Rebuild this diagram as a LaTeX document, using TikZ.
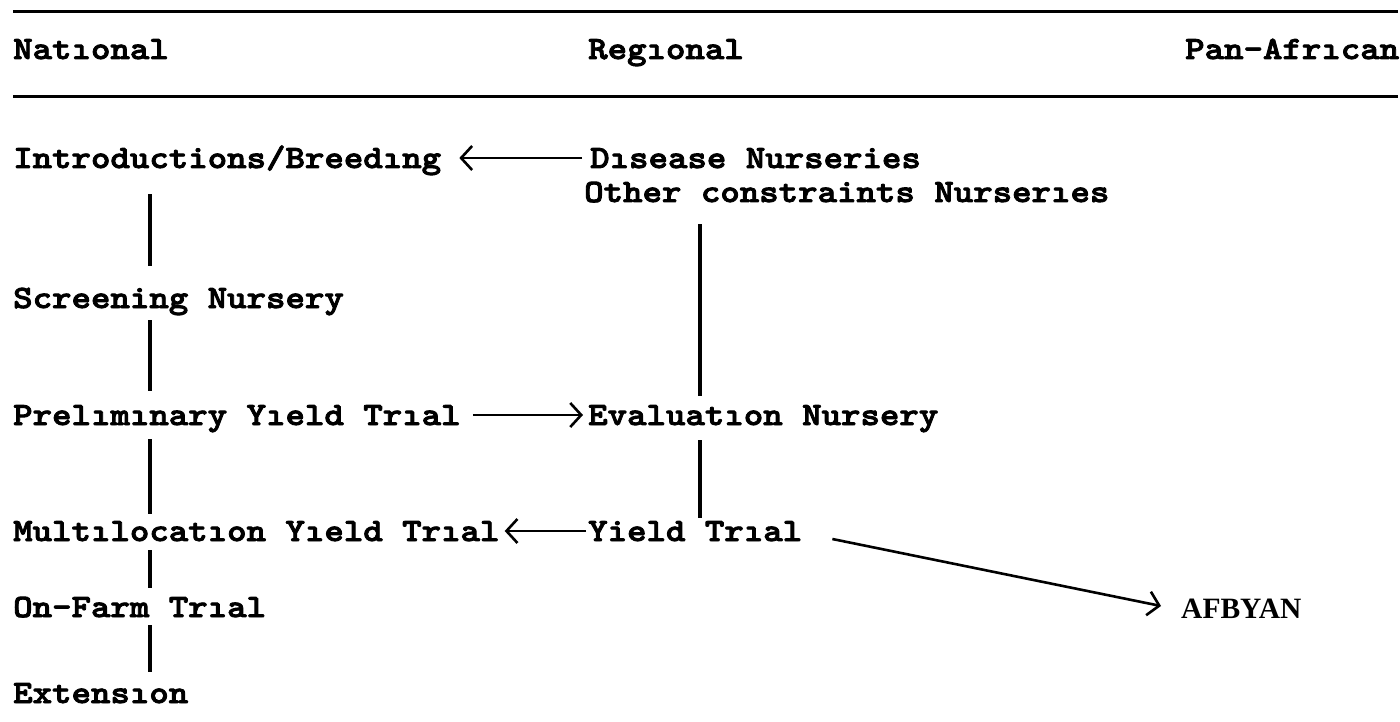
\documentclass[tikz,border=0pt]{standalone}
\usepackage{fontspec}
\newfontfamily\tw[FakeBold=2.6,FakeStretch=1.14]{lmmonolt10-bold.otf}
\newfontfamily\afont{Liberation Serif}
\usetikzlibrary{arrows.meta}
\begin{document}
\begin{tikzpicture}[x=1pt,y=-1pt,
  lbl/.style={anchor=west, inner sep=0pt, font=\fontsize{32.5}{36}\selectfont\tw, text height=20pt, text depth=0pt},
  albl/.style={anchor=west, inner sep=0pt, font=\fontsize{29.5}{32}\selectfont\afont\bfseries, text height=19.5pt, text depth=0pt},
  rulel/.style={line width=3pt},
  conn/.style={line width=3.2pt},
  arr/.style={line width=2.6pt, -{Straight Barb[length=11pt,width=24pt,line width=2.6pt]}}]
\useasboundingbox (0,0) rectangle (1400,722);
% rules
\coordinate (rl1) at (13,12);   \coordinate (rr1) at (1398,12);
\coordinate (rl2) at (13,97);   \coordinate (rr2) at (1398,97);
\draw[rulel] (rl1) -- (rr1);
\draw[rulel] (rl2) -- (rr2);
% headers
\node[lbl] (hnat) at (13,49) {Natıonal};
\node[lbl] (hreg) at (588,49) {Regıonal};
\node[lbl] (hpan) at (1185,49) {Pan-Afrıcan};
% national column
\node[lbl] (intro) at (13,158) {Introductions/Breedıng};
\node[lbl] (screen) at (13,298) {Screening Nursery};
\node[lbl] (prelim) at (13,415) {Prelımınary Yıeld Trıal};
\node[lbl] (multi) at (13,531) {Multılocatıon Yıeld Trıal};
\node[lbl] (onfarm) at (13,607) {On-Farm Trıal};
\node[lbl] (ext) at (13,693) {Extensıon};
% regional column
\node[lbl] (disease) at (590,158) {Dısease Nurseries};
\node[lbl] (other) at (584,192) {Other constraints Nurserıes};
\node[lbl] (eval) at (588,415) {Evaluatıon Nursery};
\node[lbl] (yield) at (588,531) {Yield Trıal};
% pan-african
\node[albl] (afbyan) at (1181,609) {AFBYAN};
% column guides
\coordinate (nx) at (150,0);
\coordinate (rx) at (700,0);
% national vertical connectors
\draw[conn, shorten <=26pt, shorten >=22pt] (intro.south -| nx) -- (screen.north -| nx);
\draw[conn, shorten <=12pt, shorten >=14pt] (screen.south -| nx) -- (prelim.north -| nx);
\draw[conn, shorten <=14pt, shorten >=7pt] (prelim.south -| nx) -- (multi.north -| nx);
\draw[conn, shorten <=9pt, shorten >=9pt] (multi.south -| nx) -- (onfarm.north -| nx);
\draw[conn, shorten <=8pt, shorten >=11pt] (onfarm.south -| nx) -- (ext.north -| nx);
% regional vertical connectors
\draw[conn, shorten <=22pt, shorten >=9pt] (other.south -| rx) -- (eval.north -| rx);
\draw[conn, shorten <=15pt, shorten >=3pt] (eval.south -| rx) -- (yield.north -| rx);
% arrows
\draw[arr, shorten <=8pt, shorten >=18pt] (disease.west) -- (intro.east);
\draw[arr, shorten <=12pt, shorten >=5pt] (prelim.east) -- (eval.west);
\draw[arr, shorten <=2pt, shorten >=5pt] (yield.west) -- (multi.east);
\draw[arr] ([shift={(30,8)}]yield.east) -- ([shift={(-20,-3)}]afbyan.west);
\end{tikzpicture}
\end{document}
